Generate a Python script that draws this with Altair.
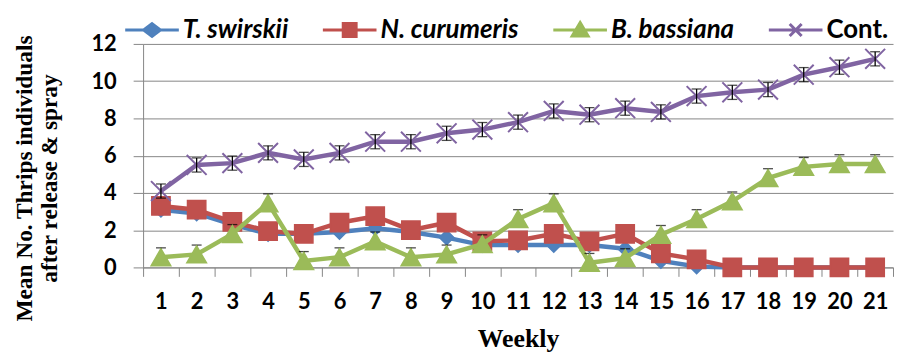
import altair as alt
import pandas as pd

weeks = [str(i) for i in range(1, 22)]
series_names = ["T. swirskii", "N. curumeris", "B. bassiana", "Cont."]
series_colors = ["#4F81BD", "#C0504D", "#9BBB59", "#8064A2"]

t_swirskii = [3.1, 2.9, 2.3, 1.8, 1.8, 1.9, 2.1, 1.9, 1.6, 1.2, 1.2, 1.2, 1.2, 1.0, 0.35, 0.05, 0, 0, 0, 0, 0]
n_curumeris = [3.3, 3.1, 2.45, 1.95, 1.8, 2.4, 2.75, 2.0, 2.4, 1.4, 1.45, 1.8, 1.4, 1.8, 0.75, 0.43, 0, 0, 0, 0, 0]
b_bassiana = [0.55, 0.7, 1.8, 3.45, 0.35, 0.55, 1.4, 0.55, 0.7, 1.25, 2.6, 3.45, 0.25, 0.5, 1.75, 2.6, 3.55, 4.8, 5.4, 5.55, 5.55]
cont = [4.1, 5.5, 5.6, 6.15, 5.8, 6.15, 6.75, 6.75, 7.2, 7.4, 7.8, 8.4, 8.2, 8.55, 8.35, 9.2, 9.4, 9.55, 10.35, 10.75, 11.2]

# error bars (plus / minus)
err_plus = [[0] * 21, [0] * 21, [0.5] * 21, [0.38] * 21]
err_minus = [[0] * 21, [0] * 21, [0] * 21, [0.38] * 21]

values = [t_swirskii, n_curumeris, b_bassiana, cont]

rows = []
for name, vals, ep, em in zip(series_names, values, err_plus, err_minus):
    for w, v, p, m in zip(weeks, vals, ep, em):
        rows.append({"week": w, "series": name, "value": v,
                     "eplus": p, "eminus": m, "lo": v - m, "hi": v + p})
df = pd.DataFrame(rows)

marker_shapes = ["diamond", "square", "triangle-up", "M-1,-1L1,1M-1,1L1,-1"]
marker_sizes = [210, 340, 390, 400]
marker_strokes = [1.5, 1.5, 1.5, 2]
legend_paths = [
    "M-2.7,0H2.7M0,-0.65L0.85,0L0,0.65L-0.85,0Z",
    "M-2.7,0H2.7M-0.65,-0.65H0.65V0.65H-0.65Z",
    "M-2.7,0H2.7M0,-0.75L0.8,0.6H-0.8Z",
    "M-2.7,0H2.7M-0.6,-0.6L0.6,0.6M-0.6,0.6L0.6,-0.6",
]
sym_expr = " : ".join(
    f"datum.value === '{n}' ? '{p}'" for n, p in zip(series_names[:-1], legend_paths[:-1])
) + f" : '{legend_paths[-1]}'"

GRID = "#868686"

x_enc = alt.X(
    "week:O", sort=weeks, bandPosition=0.5,
    scale=alt.Scale(type="band", paddingInner=0, paddingOuter=0),
    axis=alt.Axis(
        title="Weekly", titleFont="Liberation Serif", titleFontSize=26,
        titleFontWeight="bold", titleColor="black", titlePadding=14,
        labelFont="Lato", labelFontSize=22, labelFontWeight="bold",
        labelColor="black", labelAngle=0, labelPadding=15,
        tickSize=9, tickColor=GRID, domainColor=GRID, tickBand="extent",
        grid=False,
    ),
)
y_axis = alt.Axis(
    values=[0, 2, 4, 6, 8, 10, 12], labelOverlap=False,
    title=["Mean No. Thrips individuals", "after release & spray"],
    titleFont="Liberation Serif", titleFontSize=23.5, titleFontWeight="bold",
    titleColor="black", titleAngle=270, titleAlign="center",
    titleBaseline="bottom", titleX=-107, titleY=135, titleLineHeight=25,
    labelFont="Lato", labelFontSize=22, labelFontWeight="bold",
    labelColor="black", labelPadding=17, tickSize=10,
    tickColor=GRID, domainColor=GRID, gridColor=GRID, gridWidth=1,
)
y_scale = alt.Scale(domain=[0, 12], nice=False)


def Y(field):
    return alt.Y(field, type="quantitative", scale=y_scale, axis=y_axis)


legend = alt.Legend(
    orient="none", direction="horizontal", legendX=-4, legendY=-27, title=None,
    labelFont="Lato", labelFontSize=26, labelFontWeight="bold",
    labelFontStyle=alt.expr("datum.value === 'Cont.' ? 'normal' : 'italic'"),
    labelColor="black", symbolType=alt.expr(sym_expr), symbolSize=400,
    symbolStrokeWidth=3, labelOffset=18, columnPadding=28, symbolOpacity=1,
)

color_scale = alt.Scale(domain=series_names, range=series_colors)

base = alt.Chart(df)
layers = []
for name, col, shp, sz, sw in zip(series_names, series_colors, marker_shapes,
                                  marker_sizes, marker_strokes):
    sub = base.transform_filter(alt.datum.series == name)
    line = sub.mark_line(color=col, strokeWidth=4.5).encode(x=x_enc, y=Y("value"))
    errsub = sub.transform_filter((alt.datum.eplus > 0) | (alt.datum.eminus > 0))
    rule = errsub.mark_rule(color="black", strokeWidth=1.3).encode(
        x=x_enc, y=Y("lo"), y2="hi:Q")
    cap_hi = errsub.transform_filter(alt.datum.eplus > 0).mark_tick(
        color="black", thickness=1.3, size=10).encode(x=x_enc, y=Y("hi"))
    cap_lo = errsub.transform_filter(alt.datum.eminus > 0).mark_tick(
        color="black", thickness=1.3, size=10).encode(x=x_enc, y=Y("lo"))
    pts = sub.mark_point(filled=True, opacity=1, fill=col, stroke=col,
                         strokeWidth=sw, shape=shp, size=sz).encode(x=x_enc, y=Y("value"))
    if name == "Cont.":
        layers += [line, pts, rule, cap_hi, cap_lo]
    else:
        layers += [line, rule, cap_hi, cap_lo, pts]

legend_layer = base.mark_point(filled=True, size=0).encode(
    x=x_enc, y=Y("value"),
    color=alt.Color("series:N", scale=color_scale, legend=legend),
    stroke=alt.Stroke("series:N", scale=color_scale, legend=legend),
)
layers.append(legend_layer)

chart = alt.layer(*layers).properties(
    width=755, height=225,
    padding={"left": 5, "top": 8, "right": 0, "bottom": 0},
    background="white",
).configure_view(stroke=None)

chart.save("out.html", embed_options={"renderer": "svg", "actions": False})
